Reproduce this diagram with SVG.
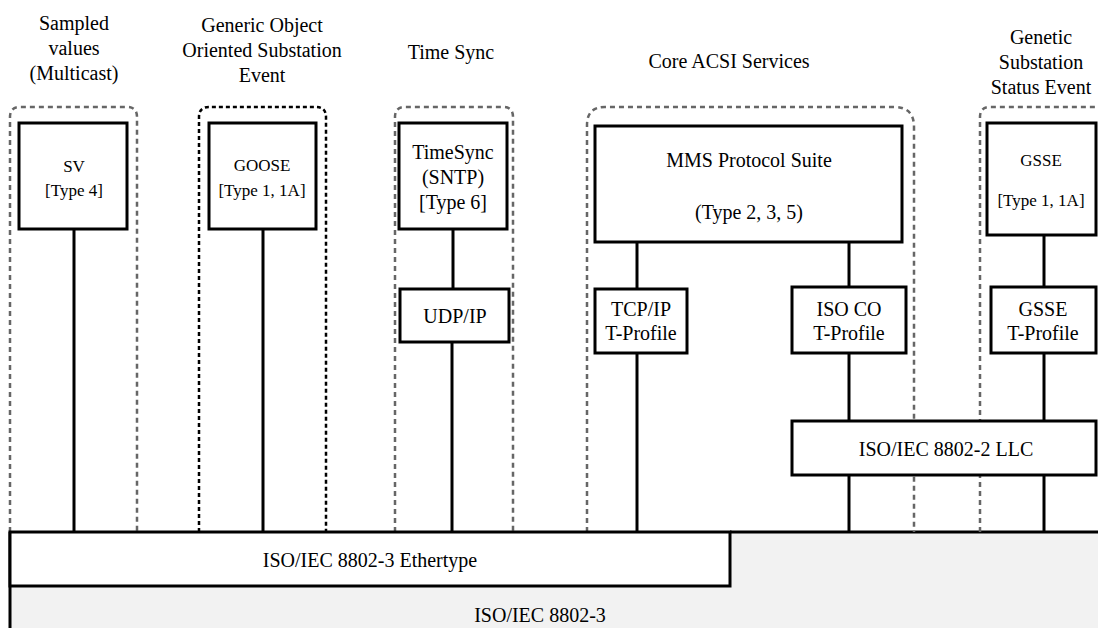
<svg xmlns="http://www.w3.org/2000/svg" width="1098" height="628" viewBox="0 0 1098 628" font-family="'Liberation Serif', Tinos, 'DejaVu Serif', serif">
  <style>
    text { fill: #000; text-anchor: middle; }
    .t { font-size: 20px; }
    .s { font-size: 17px; }
    .box { fill: #fff; stroke: #000; stroke-width: 3; }
    .grp { fill: none; stroke: #666; stroke-width: 2.5; stroke-dasharray: 5 4; }
    .grpk { fill: none; stroke: #000; stroke-width: 2.5; stroke-dasharray: 4 3; }
    .wire { stroke: #000; stroke-width: 3; fill: none; }
  </style>

  <!-- physical layer base -->
  <g id="iso8802-3">
    <rect x="10" y="532" width="1090" height="100" fill="#f2f2f2"/>
    <path class="wire" d="M10,532 V628 M730,532 H1100"/>
    <text class="t" x="540" y="622">ISO/IEC 8802-3</text>
  </g>

  <!-- service group outlines (open at the bottom) -->
  <g id="groups">
    <path class="grp" d="M10,532 V117 Q10,107 20,107 H127 Q137,107 137,117 V532"/>
    <path class="grpk" d="M199,532 V117 Q199,107 209,107 H316 Q326,107 326,117 V532"/>
    <path class="grp" d="M395,532 V117 Q395,107 405,107 H503 Q513,107 513,117 V532"/>
    <path class="grp" d="M587,532 V125 Q587,107 605,107 H894 Q914,107 914,127 V532"/>
    <path class="grp" d="M980,532 V117 Q980,107 990,107 H1110"/>
  </g>

  <!-- group titles -->
  <g id="titles">
    <text class="t" x="74" y="30">Sampled</text>
    <text class="t" x="74" y="55">values</text>
    <text class="t" x="74" y="80">(Multicast)</text>
    <text class="t" x="262" y="32">Generic Object</text>
    <text class="t" x="262" y="57">Oriented Substation</text>
    <text class="t" x="262" y="82">Event</text>
    <text class="t" x="451" y="59">Time Sync</text>
    <text class="t" x="729" y="68">Core ACSI Services</text>
    <text class="t" x="1041" y="44">Genetic</text>
    <text class="t" x="1041" y="69">Substation</text>
    <text class="t" x="1041" y="94">Status Event</text>
  </g>

  <!-- connectors -->
  <g id="connectors">
    <path class="wire" d="M74,229 V532"/>
    <path class="wire" d="M263,229 V532"/>
    <path class="wire" d="M453,229 V289"/>
    <path class="wire" d="M452,342 V532"/>
    <path class="wire" d="M637,242 V289"/>
    <path class="wire" d="M637,353 V532"/>
    <path class="wire" d="M849,242 V287"/>
    <path class="wire" d="M849,353 V421"/>
    <path class="wire" d="M849,475 V532"/>
    <path class="wire" d="M1044,235 V287"/>
    <path class="wire" d="M1044,353 V421"/>
    <path class="wire" d="M1044,475 V532"/>
  </g>

  <g id="ethertype">
    <rect class="box" x="10" y="532" width="720" height="54"/>
    <text class="t" x="370" y="567">ISO/IEC 8802-3 Ethertype</text>
  </g>

  <g id="sv">
    <rect class="box" x="19" y="123" width="108" height="106"/>
    <text class="s" x="74" y="172">SV</text>
    <text class="s" x="74" y="196">[Type 4]</text>
  </g>

  <g id="goose">
    <rect class="box" x="209" y="123" width="107" height="106"/>
    <text class="s" x="262" y="171">GOOSE</text>
    <text class="s" x="262" y="196">[Type 1, 1A]</text>
  </g>

  <g id="timesync">
    <rect class="box" x="399" y="123" width="108" height="106"/>
    <text class="t" x="453" y="159">TimeSync</text>
    <text class="t" x="453" y="184">(SNTP)</text>
    <text class="t" x="453" y="209">[Type 6]</text>
  </g>

  <g id="udpip">
    <rect class="box" x="400" y="289" width="109" height="53"/>
    <text class="t" x="455" y="323">UDP/IP</text>
  </g>

  <g id="mms">
    <rect class="box" x="595" y="126" width="307" height="116"/>
    <text class="t" x="749" y="167">MMS Protocol Suite</text>
    <text class="t" x="749" y="219">(Type 2, 3, 5)</text>
  </g>

  <g id="tcpip">
    <rect class="box" x="595" y="289" width="92" height="64"/>
    <text class="t" x="641" y="316">TCP/IP</text>
    <text class="t" x="641" y="340">T-Profile</text>
  </g>

  <g id="isoco">
    <rect class="box" x="792" y="287" width="114" height="66"/>
    <text class="t" x="849" y="316">ISO CO</text>
    <text class="t" x="849" y="340">T-Profile</text>
  </g>

  <g id="gsse">
    <rect class="box" x="987" y="123" width="109" height="112"/>
    <text class="s" x="1041" y="166">GSSE</text>
    <text class="s" x="1041" y="206">[Type 1, 1A]</text>
  </g>

  <g id="gsse-tprofile">
    <rect class="box" x="991" y="287" width="105" height="66"/>
    <text class="t" x="1043" y="316">GSSE</text>
    <text class="t" x="1043" y="340">T-Profile</text>
  </g>

  <g id="llc">
    <rect class="box" x="792" y="421" width="304" height="54"/>
    <text class="t" x="946" y="456">ISO/IEC 8802-2 LLC</text>
  </g>
</svg>
